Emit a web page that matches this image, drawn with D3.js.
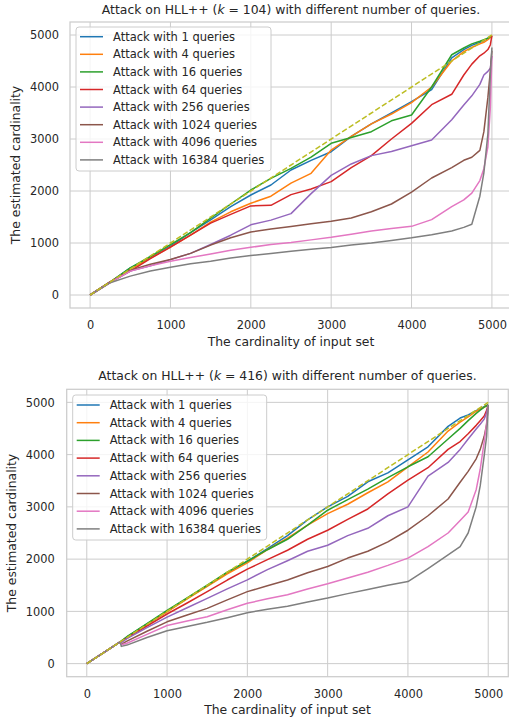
<!DOCTYPE html>
<html><head><meta charset="utf-8">
<script src="https://cdn.jsdelivr.net/npm/d3@7"></script>
<style>
body{margin:0;background:#fff;}
svg{display:block;font-family:"DejaVu Sans",sans-serif;}
</style></head>
<body><svg id="c" width="509" height="724"></svg>
<script>
// ---------- data ----------
const seriesLabels = ["Attack with 1 queries","Attack with 4 queries","Attack with 16 queries","Attack with 64 queries","Attack with 256 queries","Attack with 1024 queries","Attack with 4096 queries","Attack with 16384 queries"];
const colors = ["#1f77b4","#ff7f0e","#2ca02c","#d62728","#9467bd","#8c564b","#e377c2","#7f7f7f"];
const diagColor = "#bcbd22";
const xTicks = [0,1000,2000,3000,4000,5000];
const yTicks = [0,1000,2000,3000,4000,5000];
const diagX = [0,5000];

// Top chart (k = 104)
const xTop = [0,250,500,750,1000,1250,1500,1750,2000,2250,2500,2750,3000,3250,3500,3750,4000,4250,4500,4650,4750,4850,4900,4950,4980,5000];
const topQ1     = [0,250,520,720,940,1200,1446,1700,1923,2115,2404,2590,2756,3050,3290,3500,3720,3950,4560,4720,4800,4860,4890,4940,4965,4985];
const topQ4     = [0,250,500,710,920,1150,1400,1600,1764,1900,2150,2340,2788,3050,3290,3480,3700,4000,4500,4680,4760,4830,4860,4910,4950,4985];
const topQ16    = [0,250,520,740,968,1200,1478,1750,2019,2242,2436,2650,2917,3030,3141,3350,3462,4000,4620,4750,4830,4880,4910,4940,4970,4985];
const topQ64    = [0,250,459,700,920,1150,1382,1550,1713,1725,1930,2040,2180,2450,2680,3000,3300,3660,3860,4231,4440,4600,4650,4720,4808,4990];
const topQ256   = [0,245,459,560,680,800,970,1150,1350,1440,1565,1950,2300,2520,2680,2760,2870,2980,3370,3654,3830,4050,4230,4300,4360,4600];
const topQ1024  = [0,240,478,590,681,800,960,1100,1210,1270,1318,1370,1420,1480,1600,1750,1980,2250,2450,2590,2650,2780,3141,3800,4300,4700];
const topQ4096  = [0,240,459,560,650,720,790,860,917,970,1010,1060,1110,1170,1230,1280,1320,1450,1700,1830,1960,2200,2430,2850,3590,4600];
const topQ16384 = [0,236,363,460,535,600,650,710,758,800,840,880,915,960,1000,1050,1100,1160,1230,1300,1360,1900,2350,3100,4230,4760];

// Bottom chart (k = 416)
const xBot = [0,416,430,500,750,1000,1250,1500,1750,2000,2250,2500,2750,3000,3250,3500,3750,4000,4250,4500,4650,4750,4850,4900,4950,4980,5000];
const botQ1     = [0,416,430,513,760,1000,1250,1490,1740,1960,2200,2450,2750,3000,3200,3480,3650,3900,4150,4540,4700,4760,4840,4880,4920,4940,4950];
const botQ4     = [0,416,430,505,750,990,1240,1480,1720,1930,2180,2400,2650,2872,3050,3270,3480,3767,4050,4450,4620,4720,4830,4870,4910,4935,4950];
const botQ16    = [0,416,430,515,765,1020,1260,1500,1750,1960,2180,2380,2650,2936,3140,3340,3560,3767,3960,4300,4502,4650,4789,4850,4910,4935,4950];
const botQ64    = [0,416,420,490,720,950,1160,1378,1600,1808,1990,2170,2380,2553,2760,2960,3250,3511,3750,4100,4250,4400,4560,4650,4740,4850,4950];
const botQ256   = [0,416,400,480,690,890,1070,1250,1430,1603,1800,1970,2150,2265,2450,2590,2830,3000,3590,3850,4100,4300,4490,4580,4680,4800,4950];
const botQ1024  = [0,416,370,430,620,800,930,1058,1220,1378,1490,1600,1740,1860,2020,2150,2330,2553,2830,3150,3470,3680,3920,4100,4350,4580,4950];
const botQ4096  = [0,416,360,390,560,730,815,897,1030,1154,1240,1320,1430,1530,1640,1750,1880,2020,2240,2500,2740,2900,3330,3720,4250,4600,4950];
const botQ16384 = [0,416,330,355,500,630,710,790,880,974,1040,1100,1180,1255,1340,1420,1500,1570,1820,2080,2240,2500,3000,3400,3980,4350,4950];

const topTitle = ["Attack on HLL++ (", "k", " = 104) with different number of queries."];
const botTitle = ["Attack on HLL++ (", "k", " = 416) with different number of queries."];
const xLabel = "The cardinality of input set";
const yLabel = "The estimated cardinality";

// ---------- drawing ----------
const svg = d3.select("#c");
const TXT = "#262626", GRID = "#cccccc";

function panel(cfg){
  const x = d3.scaleLinear().domain([-250,5250]).range([cfg.left,cfg.right]);
  const y = d3.scaleLinear().domain([-250,5250]).range([cfg.bottom,cfg.top]);
  const g = svg.append("g");
  g.append("g").selectAll("line").data(xTicks).join("line")
    .attr("x1",d=>x(d)).attr("x2",d=>x(d)).attr("y1",cfg.top).attr("y2",cfg.bottom)
    .attr("stroke",GRID).attr("stroke-width",1);
  g.append("g").selectAll("line").data(yTicks).join("line")
    .attr("y1",d=>y(d)).attr("y2",d=>y(d)).attr("x1",cfg.left).attr("x2",cfg.right)
    .attr("stroke",GRID).attr("stroke-width",1);
  g.append("rect").attr("x",cfg.left).attr("y",cfg.top)
    .attr("width",cfg.right-cfg.left).attr("height",cfg.bottom-cfg.top)
    .attr("fill","none").attr("stroke",GRID).attr("stroke-width",1.25);
  const xa = g.append("g").attr("transform",`translate(0,${cfg.bottom})`)
    .call(d3.axisBottom(x).tickValues(xTicks).tickSize(0).tickPadding(13).tickFormat(d3.format("d")));
  const ya = g.append("g").attr("transform",`translate(${cfg.left},0)`)
    .call(d3.axisLeft(y).tickValues(yTicks).tickSize(0).tickPadding(cfg.ytickPad).tickFormat(d3.format("d")));
  [xa,ya].forEach(a=>{a.select(".domain").remove();
    a.selectAll("text").attr("fill",TXT).attr("font-size",11.4).attr("font-family","DejaVu Sans");});
  const line = d3.line().x(d=>x(d[0])).y(d=>y(d[1]));
  const clipId = "clip"+cfg.id;
  svg.append("clipPath").attr("id",clipId).append("rect")
    .attr("x",cfg.left).attr("y",cfg.top).attr("width",cfg.right-cfg.left).attr("height",cfg.bottom-cfg.top);
  const lg = g.append("g").attr("clip-path",`url(#${clipId})`);
  cfg.series.forEach((s,i)=>{
    lg.append("path").datum(cfg.xs.map((xv,j)=>[xv,s[j]]))
      .attr("d",line).attr("fill","none").attr("stroke",colors[i])
      .attr("stroke-width",1.5).attr("stroke-linejoin","round");
  });
  lg.append("path").datum(diagX.map(v=>[v,v])).attr("d",line)
    .attr("fill","none").attr("stroke",diagColor).attr("stroke-width",1.5)
    .attr("stroke-dasharray","5.5,2.4");
  const cx = (cfg.left+cfg.right)/2;
  const t = g.append("text").attr("x",cx).attr("y",cfg.titleY).attr("text-anchor","middle")
    .attr("fill",TXT).attr("font-size",12.4);
  t.append("tspan").text(cfg.title[0]);
  t.append("tspan").attr("font-style","italic").text(cfg.title[1]);
  t.append("tspan").text(cfg.title[2]);
  g.append("text").attr("x",cx).attr("y",cfg.xLabelY).attr("text-anchor","middle")
    .attr("fill",TXT).attr("font-size",12.4).text(xLabel);
  g.append("text").attr("transform",`translate(${cfg.yLabelX},${(cfg.top+cfg.bottom)/2}) rotate(-90)`)
    .attr("text-anchor","middle").attr("fill",TXT).attr("font-size",12.4).text(yLabel);
  const L = cfg.legend;
  const leg = g.append("g");
  leg.append("rect").attr("x",L.x).attr("y",L.y).attr("width",L.w).attr("height",L.h)
    .attr("rx",3).attr("fill","#fff").attr("fill-opacity",0.8).attr("stroke",GRID).attr("stroke-width",1);
  seriesLabels.forEach((lab,i)=>{
    const yy = L.row0 + i*L.dy;
    leg.append("line").attr("x1",L.x+4).attr("x2",L.x+27).attr("y1",yy).attr("y2",yy)
      .attr("stroke",colors[i]).attr("stroke-width",1.5);
    leg.append("text").attr("x",L.x+37).attr("y",yy).attr("dy","0.35em")
      .attr("fill",TXT).attr("font-size",11.5).text(lab);
  });
}

panel({id:"a",left:70,right:512,top:22,bottom:308,titleY:14,xLabelY:346,yLabelX:20,ytickPad:11,
  title:topTitle,xs:xTop,series:[topQ1,topQ4,topQ16,topQ64,topQ256,topQ1024,topQ4096,topQ16384],
  legend:{x:76,y:27,w:195,h:144,row0:36.7,dy:17.6}});
panel({id:"b",left:66.7,right:508.3,top:389.3,bottom:676.7,titleY:380,xLabelY:714,yLabelX:16,ytickPad:12,
  title:botTitle,xs:xBot,series:[botQ1,botQ4,botQ16,botQ64,botQ256,botQ1024,botQ4096,botQ16384],
  legend:{x:72.7,y:395,w:194,h:145,row0:405,dy:17.7}});
</script></body></html>
